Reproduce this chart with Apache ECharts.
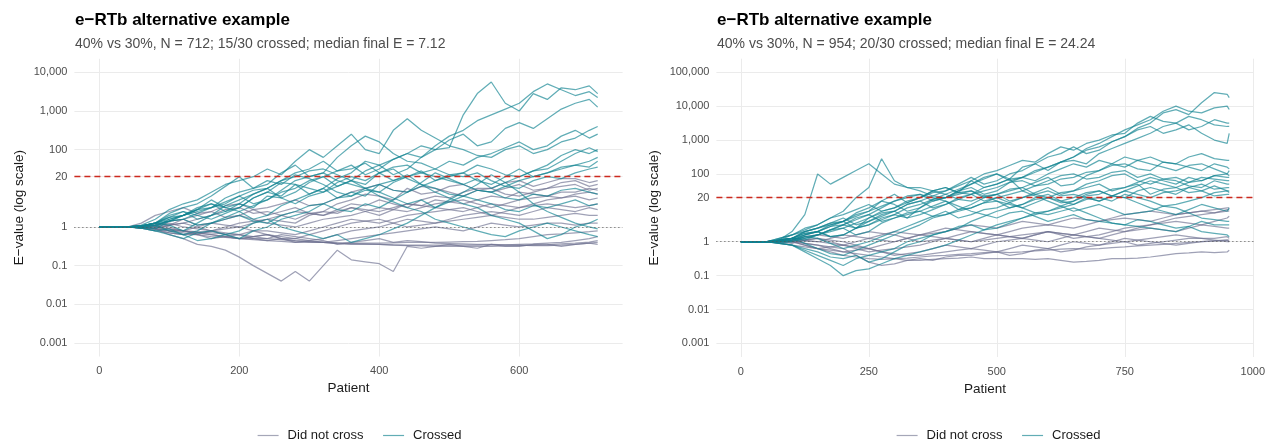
<!DOCTYPE html>
<html>
<head>
<meta charset="utf-8">
<script src="https://cdn.jsdelivr.net/npm/echarts@6/dist/echarts.min.js"></script>
<style>
html, body { margin: 0; padding: 0; background: #fff; }
#main { width: 1268px; height: 439px; }
</style>
</head>
<body>
<div id="main"></div>
<script>
var leftPatients = [0, 20, 40, 60, 80, 100, 120, 140, 160, 180, 200, 220, 240, 260, 280, 300, 320, 340, 360,
    380, 400, 420, 440, 460, 480, 500, 520, 540, 560, 580, 600, 620, 640, 660, 680, 700, 712];
var rightPatients = [0, 25, 50, 75, 100, 125, 150, 175, 200, 225, 250, 275, 300, 325, 350, 375, 400, 425, 450, 475,
    500, 525, 550, 575, 600, 625, 650, 675, 700, 725, 750, 775, 800, 825, 850, 875, 900, 925, 950, 954];

// log10(E) paths, left panel (N = 712)
var leftCrossed = [
    [0, 0, 0, 0.02, 0.1, 0.25, 0.3, 0.5, 0.6, 0.4, 0.5, 0.75, 0.9, 1.15, 1.1, 0.85, 1.0, 1.25, 1.4, 1.7, 1.6, 1.35, 1.5, 1.8, 2.0, 2.05, 2.9, 3.45, 3.75, 3.2, 3.0, 3.45, 3.3, 3.6, 3.55, 3.65, 3.45],
    [0, 0, 0, -0.02, 0.05, 0.15, 0.2, 0.35, 0.5, 0.65, 0.8, 0.6, 0.7, 0.9, 1.0, 1.2, 1.3, 1.05, 1.2, 1.45, 1.6, 1.75, 1.9, 1.8, 2.1, 2.35, 2.5, 2.75, 2.9, 3.05, 3.2, 3.5, 3.7, 3.55, 3.4, 3.5, 3.35],
    [0, 0, 0, 0.03, 0.1, 0.3, 0.4, 0.2, 0.3, 0.55, 0.7, 0.85, 1.0, 0.75, 0.9, 1.15, 1.3, 1.45, 1.6, 1.35, 1.5, 1.75, 1.9, 2.1, 2.0, 2.25, 2.4, 2.1, 2.2, 2.55, 2.7, 2.55, 2.8, 3.05, 3.2, 3.3, 3.1],
    [0, 0, 0, 0.05, 0.2, 0.45, 0.6, 0.7, 0.9, 1.1, 1.2, 1.3, 1.5, 1.35, 1.7, 2.0, 1.8, 2.1, 2.4, 2.0, 1.9, 2.5, 2.8, 2.5, 2.3, 2.1, 2.0, 1.85, 1.8, 2.0, 2.1, 1.9, 2.0, 2.2, 2.3, 2.5, 2.6],
    [0, 0, 0, 0.02, 0.1, 0.35, 0.5, 0.6, 0.8, 1.05, 1.3, 1.0, 1.1, 1.4, 1.6, 1.3, 1.4, 1.8, 2.1, 2.35, 2.2, 1.9, 1.7, 1.65, 1.5, 1.7, 1.6, 1.8, 1.9, 2.05, 2.2, 2.0, 2.1, 2.35, 2.5, 2.3, 2.4],
    [0, 0, 0, -0.02, 0, 0.2, 0.3, 0.45, 0.7, 0.5, 0.6, 0.85, 1.0, 1.2, 1.4, 1.5, 1.7, 1.45, 1.5, 1.65, 1.4, 1.2, 1.3, 1.45, 1.2, 1.3, 1.4, 1.6, 1.5, 1.35, 1.3, 1.45, 1.6, 1.85, 2.0, 1.9, 2.0],
    [0, 0, 0, 0.03, 0.1, 0.05, -0.1, 0.1, 0.3, 0.4, 0.6, 0.5, 0.8, 0.75, 0.6, 0.8, 0.9, 1.05, 1.2, 1.1, 1.4, 1.55, 1.6, 1.4, 1.3, 1.2, 1.1, 1.25, 1.0, 1.15, 1.3, 1.45, 1.5, 1.7, 1.9, 2.05, 1.95],
    [0, 0, 0, 0, 0.05, 0.15, 0.2, 0.05, 0.1, 0.25, 0.4, 0.2, 0.3, 0.55, 0.7, 0.85, 1.0, 0.75, 0.8, 1.0, 1.1, 0.95, 0.9, 1.05, 1.2, 1.35, 1.4, 1.2, 1.1, 1.3, 1.5, 1.3, 1.4, 1.55, 1.6, 1.7, 1.8],
    [0, 0, 0, 0, -0.05, 0.15, 0.3, 0.4, 0.5, 0.75, 0.9, 1.0, 1.2, 1.1, 1.35, 1.25, 1.1, 0.9, 0.8, 0.95, 0.9, 1.15, 1.3, 1.4, 1.5, 1.35, 1.3, 1.4, 1.2, 1.05, 1.0, 1.2, 1.3, 1.25, 1.4, 1.5, 1.55],
    [0, 0, 0, 0.02, 0.1, 0.25, 0.4, 0.3, 0.2, 0.35, 0.5, 0.75, 0.9, 0.8, 1.1, 1.0, 0.9, 1.15, 1.3, 1.2, 1.4, 1.5, 1.25, 1.1, 1.0, 0.85, 0.8, 0.95, 0.9, 1.05, 1.2, 1.3, 1.4, 1.5, 1.6, 1.55, 1.7],
    [0, 0, 0, -0.03, -0.1, -0.05, -0.2, -0.1, 0.1, 0.2, 0.3, 0.15, 0.1, 0.3, 0.4, 0.55, 0.6, 0.45, 0.4, 0.6, 0.5, 0.7, 0.9, 1.15, 1.4, 1.25, 1.1, 0.95, 0.9, 0.75, 0.7, 0.85, 0.8, 0.95, 1.0, 0.9, 0.85],
    [0, 0, 0, 0.02, 0.1, 0.2, 0.3, 0.45, 0.6, 0.5, 0.4, 0.55, 0.7, 0.95, 1.2, 1.3, 1.4, 1.2, 1.1, 1.0, 0.9, 0.75, 0.6, 0.7, 0.5, 0.65, 0.8, 0.7, 0.6, 0.45, 0.4, 0.55, 0.5, 0.6, 0.7, 0.55, 0.6],
    [0, 0, 0, -0.03, -0.1, -0.2, -0.3, -0.15, -0.1, -0.2, -0.3, -0.1, 0.0, 0.2, 0.3, 0.4, 0.6, 0.75, 0.9, 0.8, 1.1, 1.2, 1.35, 1.1, 0.9, 0.75, 0.6, 0.5, 0.3, 0.2, 0.1, -0.1, -0.3, -0.2, 0.0, 0.1, 0.2],
    [0, 0, 0, 0.02, 0.05, -0.1, -0.2, -0.35, -0.3, -0.2, -0.1, 0.1, 0.2, 0.0, -0.1, -0.2, -0.3, -0.2, -0.4, -0.3, -0.2, -0.05, 0.1, 0.3, 0.5, 0.7, 0.9, 1.1, 1.35, 1.15, 0.9, 0.6, 0.4, 0.25, 0.1, 0.0, -0.05],
    [0, 0, 0, 0.03, 0.1, 0.15, 0.3, 0.45, 0.5, 0.6, 0.8, 0.95, 1.0, 1.2, 1.3, 1.45, 1.5, 1.35, 1.2, 1.0, 0.8, 0.65, 0.5, 0.4, 0.2, 0.1, 0.0, -0.1, -0.2, -0.25, -0.1, 0.0, 0.1, 0.0, -0.1, -0.2, -0.25]
];
var leftNotCrossed = [
    [0, 0, 0, -0.02, -0.05, -0.2, -0.3, -0.45, -0.5, -0.6, -0.78, -1.0, -1.2, -1.4, -1.15, -1.4, -1.0, -0.6, -0.85, -0.9, -0.95, -1.15, -0.5, -0.55, -0.5, -0.45, -0.5, -0.55, -0.45, -0.5, -0.5, -0.45, -0.45, -0.5, -0.45, -0.42, -0.45],
    [0, 0, 0, 0.1, 0.3, 0.4, 0.5, 0.35, 0.4, 0.55, 0.6, 0.45, 0.3, 0.4, 0.5, 0.35, 0.4, 0.6, 0.7, 0.85, 0.8, 0.7, 1.0, 0.85, 0.9, 1.05, 1.1, 0.95, 1.0, 1.15, 1.2, 1.05, 1.15, 1.25, 1.25, 1.15, 1.2],
    [0, 0, 0, 0.03, 0.1, 0.05, 0.2, 0.3, 0.4, 0.25, 0.3, 0.45, 0.5, 0.6, 0.7, 0.55, 0.6, 0.75, 0.9, 1.0, 1.1, 0.95, 0.9, 1.05, 1.0, 0.9, 0.8, 0.95, 0.9, 1.0, 1.1, 0.95, 1.0, 1.15, 1.2, 1.05, 1.1],
    [0, 0, 0, -0.02, -0.05, 0.05, 0.1, 0.2, 0.3, 0.45, 0.5, 0.35, 0.4, 0.3, 0.2, 0.35, 0.3, 0.45, 0.6, 0.55, 0.7, 0.6, 0.5, 0.7, 0.8, 0.75, 0.9, 1.0, 1.0, 0.85, 0.8, 0.9, 1.0, 1.05, 1.1, 0.95, 1.0],
    [0, 0, 0, 0.02, 0, -0.1, -0.1, 0.0, 0.1, 0.05, 0.0, 0.1, 0.2, 0.15, 0.1, 0.3, 0.4, 0.35, 0.5, 0.4, 0.3, 0.45, 0.6, 0.55, 0.7, 0.65, 0.6, 0.7, 0.8, 0.75, 0.9, 0.85, 0.8, 0.9, 0.9, 1.0, 0.95],
    [0, 0, 0, 0, 0.05, 0.15, 0.2, 0.05, 0.1, 0.2, 0.3, 0.2, 0.1, 0.05, 0.0, 0.1, 0.2, 0.25, 0.3, 0.4, 0.5, 0.45, 0.4, 0.5, 0.6, 0.65, 0.7, 0.6, 0.5, 0.6, 0.7, 0.75, 0.8, 0.75, 0.85, 0.9, 0.85],
    [0, 0, 0, -0.03, -0.1, -0.15, -0.2, -0.2, -0.1, 0.0, 0.1, 0.15, 0.2, 0.3, 0.4, 0.35, 0.3, 0.4, 0.5, 0.45, 0.4, 0.5, 0.6, 0.55, 0.5, 0.45, 0.4, 0.5, 0.6, 0.55, 0.5, 0.6, 0.7, 0.75, 0.8, 0.7, 0.75],
    [0, 0, 0, 0.02, 0.05, 0.0, -0.1, -0.2, -0.3, -0.25, -0.2, -0.1, -0.1, -0.15, -0.2, -0.1, 0.0, 0.1, 0.2, 0.15, 0.1, 0.2, 0.3, 0.35, 0.4, 0.45, 0.5, 0.4, 0.3, 0.4, 0.5, 0.55, 0.6, 0.55, 0.5, 0.55, 0.6],
    [0, 0, 0, 0, 0, 0.05, 0.1, 0.0, -0.1, -0.2, -0.3, -0.25, -0.2, -0.3, -0.4, -0.35, -0.3, -0.2, -0.1, -0.05, 0.0, 0.1, 0.2, 0.15, 0.1, 0.2, 0.3, 0.35, 0.4, 0.35, 0.3, 0.4, 0.5, 0.45, 0.4, 0.5, 0.45],
    [0, 0, 0, -0.02, -0.05, -0.15, -0.2, -0.15, -0.1, -0.05, 0.0, -0.1, -0.2, -0.25, -0.3, -0.2, -0.1, 0.0, 0.1, 0.15, 0.2, 0.1, 0.0, 0.05, 0.1, 0.15, 0.2, 0.25, 0.3, 0.25, 0.2, 0.2, 0.25, 0.3, 0.35, 0.3, 0.3],
    [0, 0, 0, 0, 0, -0.05, -0.1, -0.15, -0.2, -0.25, -0.3, -0.3, -0.35, -0.3, -0.3, -0.35, -0.4, -0.35, -0.3, -0.25, -0.2, -0.15, -0.1, -0.05, 0.0, -0.05, -0.1, 0.0, 0.1, 0.05, 0.0, 0.05, 0.1, 0.1, 0.05, 0.1, 0.1],
    [0, 0, 0, -0.02, -0.05, -0.1, -0.15, -0.2, -0.25, -0.27, -0.3, -0.33, -0.35, -0.37, -0.4, -0.4, -0.4, -0.41, -0.42, -0.42, -0.42, -0.41, -0.4, -0.4, -0.4, -0.39, -0.38, -0.37, -0.35, -0.33, -0.3, -0.25, -0.2, -0.18, -0.15, -0.12, -0.1],
    [0, 0, 0, 0, -0.05, -0.1, -0.1, -0.15, -0.2, -0.25, -0.3, -0.25, -0.2, -0.3, -0.35, -0.38, -0.4, -0.43, -0.45, -0.45, -0.45, -0.46, -0.47, -0.47, -0.47, -0.47, -0.47, -0.47, -0.46, -0.46, -0.45, -0.44, -0.42, -0.4, -0.35, -0.3, -0.25],
    [0, 0, 0, 0, 0, -0.05, -0.1, -0.12, -0.15, -0.18, -0.2, -0.25, -0.3, -0.33, -0.36, -0.38, -0.4, -0.42, -0.43, -0.44, -0.45, -0.47, -0.48, -0.49, -0.5, -0.5, -0.5, -0.5, -0.5, -0.49, -0.48, -0.47, -0.46, -0.44, -0.42, -0.39, -0.35],
    [0, 0, 0, 0.02, 0.05, 0.1, 0.0, -0.05, -0.1, -0.15, -0.2, -0.3, -0.3, -0.2, -0.25, -0.3, -0.35, -0.45, -0.4, -0.35, -0.3, -0.4, -0.35, -0.38, -0.42, -0.43, -0.44, -0.45, -0.45, -0.46, -0.47, -0.48, -0.48, -0.47, -0.45, -0.42, -0.4]
];

// log10(E) paths, right panel (N = 954)
var rightCrossed = [
    [0, 0, 0, 0.05, 0.1, 0.25, 0.3, 0.15, 0.2, 0.4, 0.5, 0.65, 0.8, 0.7, 1.0, 1.2, 1.3, 1.5, 1.6, 1.4, 1.5, 1.75, 1.9, 2.1, 2.2, 2.35, 2.5, 2.7, 2.8, 2.95, 3.1, 3.35, 3.5, 3.8, 3.9, 3.75, 4.1, 4.4, 4.35, 4.25],
    [0, 0, 0, 0.1, 0.2, 0.3, 0.4, 0.55, 0.6, 0.75, 0.9, 1.2, 1.1, 0.9, 1.0, 1.25, 1.4, 1.55, 1.7, 1.9, 2.0, 1.85, 2.2, 2.3, 2.1, 2.35, 2.5, 2.75, 2.9, 3.1, 3.3, 3.45, 3.6, 3.85, 4.0, 3.85, 3.8, 3.95, 4.0, 3.9],
    [0, 0, 0, 0.02, 0.05, 0.2, 0.3, 0.45, 0.5, 0.4, 0.7, 0.9, 1.0, 1.15, 1.3, 1.5, 1.6, 1.45, 1.8, 2.0, 2.1, 2.25, 2.4, 2.35, 2.6, 2.8, 2.7, 2.9, 3.0, 3.15, 3.2, 3.5, 3.7, 3.55, 3.5, 3.7, 3.6, 3.45, 3.4, 3.4],
    [0, 0, 0, 0.05, 0.1, 0.3, 0.4, 0.55, 0.7, 0.5, 0.6, 0.8, 0.9, 1.1, 1.2, 1.35, 1.5, 1.7, 1.9, 1.7, 1.8, 2.0, 2.1, 2.3, 2.5, 2.6, 2.8, 2.6, 2.7, 2.95, 3.1, 3.3, 3.4, 3.2, 3.3, 3.45, 3.2, 3.0, 2.9, 3.2],
    [0, 0, 0, 0.03, 0.1, 0.1, 0.2, 0.35, 0.5, 0.7, 0.8, 1.0, 1.2, 1.3, 1.4, 1.2, 1.3, 1.5, 1.7, 1.85, 2.0, 1.8, 1.9, 2.05, 2.2, 2.35, 2.4, 2.3, 2.6, 2.75, 2.9, 3.05, 3.2, 3.4, 3.5, 3.3, 3.4, 3.6, 3.5, 3.5],
    [0, 0, 0, 0.05, 0.3, 0.8, 2.0, 1.7, 1.9, 2.1, 2.3, 2.0, 1.7, 1.6, 1.5, 1.35, 1.3, 1.45, 1.5, 1.3, 1.4, 1.55, 1.6, 1.75, 1.9, 1.65, 1.7, 1.95, 2.1, 2.25, 2.3, 2.15, 2.1, 2.35, 2.3, 2.2, 2.1, 2.3, 2.2, 2.15],
    [0, 0, 0, 0.1, 0.2, 0.4, 0.5, 0.7, 0.9, 1.3, 1.6, 2.45, 1.8, 1.6, 1.6, 1.5, 1.4, 1.25, 1.2, 1.35, 1.4, 1.2, 1.3, 1.45, 1.6, 1.4, 1.5, 1.7, 1.8, 1.95, 2.0, 1.8, 1.7, 1.85, 1.9, 1.75, 1.8, 1.95, 1.9, 1.9],
    [0, 0, 0, 0.05, 0.1, 0.2, 0.3, 0.5, 0.6, 0.85, 1.0, 1.2, 1.4, 1.15, 1.3, 1.45, 1.5, 1.65, 1.8, 1.6, 1.7, 1.85, 1.5, 1.65, 1.8, 1.95, 2.0, 1.85, 1.9, 2.05, 2.1, 1.9, 2.0, 1.85, 1.8, 1.65, 1.6, 1.8, 1.7, 1.7],
    [0, 0, 0, -0.03, 0.0, 0.1, 0.2, 0.3, 0.4, 0.2, 0.3, 0.55, 0.7, 0.8, 0.9, 1.05, 1.2, 0.95, 1.1, 1.3, 1.4, 1.5, 1.6, 1.4, 1.3, 1.45, 1.5, 1.6, 1.7, 1.5, 1.6, 1.7, 1.4, 1.55, 1.6, 1.45, 1.5, 1.65, 1.5, 1.5],
    [0, 0, 0, 0.05, 0.1, -0.05, -0.2, -0.35, -0.4, -0.25, -0.1, 0.05, 0.2, 0.35, 0.5, 0.7, 0.8, 0.9, 1.0, 1.15, 1.2, 1.0, 1.1, 1.3, 1.4, 1.2, 1.3, 1.45, 1.5, 1.35, 1.3, 1.5, 1.6, 1.5, 1.4, 1.6, 1.5, 1.35, 1.4, 1.4],
    [0, 0, 0, 0, 0.05, 0.2, 0.3, 0.45, 0.6, 0.4, 0.5, 0.7, 0.8, 1.0, 1.1, 1.25, 1.3, 1.4, 1.5, 1.35, 1.2, 1.1, 1.0, 1.15, 1.3, 1.2, 1.1, 1.3, 1.2, 1.35, 1.5, 1.4, 1.3, 1.45, 1.5, 1.6, 1.7, 1.55, 1.6, 1.6],
    [0, 0, 0, -0.05, -0.1, -0.2, -0.3, -0.45, -0.5, -0.4, -0.6, -0.5, -0.3, -0.1, 0.0, 0.2, 0.3, 0.4, 0.6, 0.75, 0.9, 1.0, 1.1, 1.25, 1.3, 1.15, 1.2, 1.35, 1.4, 1.55, 1.6, 1.75, 1.9, 1.8, 1.7, 1.9, 1.8, 1.95, 2.0, 1.95],
    [0, 0, 0, -0.05, -0.1, -0.3, -0.5, -0.7, -1.0, -0.85, -0.8, -0.65, -0.5, -0.4, -0.3, -0.2, -0.1, 0.05, 0.2, 0.35, 0.5, 0.6, 0.7, 0.85, 0.9, 1.0, 1.1, 1.25, 1.3, 1.2, 1.4, 1.3, 1.2, 1.05, 1.1, 1.2, 1.3, 1.45, 1.5, 1.45],
    [0, 0, 0, 0.05, 0.1, 0.25, 0.3, 0.15, 0.2, 0.4, 0.6, 0.75, 0.9, 0.7, 0.8, 0.95, 1.1, 1.25, 1.4, 1.2, 1.3, 1.15, 1.0, 0.85, 0.8, 0.9, 1.0, 0.85, 0.7, 0.55, 0.5, 0.65, 0.6, 0.5, 0.4, 0.45, 0.3, 0.25, 0.2, 0.15],
    [0, 0, 0, 0.02, 0.0, 0.15, 0.2, 0.35, 0.5, 0.65, 0.8, 0.6, 0.7, 0.85, 0.9, 0.75, 0.8, 0.95, 1.0, 1.15, 1.3, 1.4, 1.5, 1.35, 1.2, 1.05, 0.9, 1.0, 1.1, 0.95, 0.8, 0.85, 0.9, 1.05, 1.0, 0.85, 0.7, 0.65, 0.6, 0.6],
    [0, 0, 0, 0.05, 0.1, 0.3, 0.4, 0.5, 0.6, 0.8, 0.9, 1.05, 1.2, 1.35, 1.4, 1.3, 1.2, 1.05, 0.9, 0.8, 0.7, 0.85, 0.9, 0.75, 0.6, 0.7, 0.8, 0.65, 0.6, 0.55, 0.5, 0.45, 0.4, 0.35, 0.3, 0.45, 0.6, 0.5, 0.5, 0.5],
    [0, 0, 0, -0.05, -0.1, -0.25, -0.4, -0.55, -0.7, -0.5, -0.4, -0.3, -0.2, 0.0, 0.1, 0.2, 0.3, 0.45, 0.5, 0.35, 0.4, 0.55, 0.7, 0.8, 0.9, 1.05, 1.2, 1.4, 1.5, 1.35, 1.3, 1.15, 1.0, 0.9, 0.8, 0.95, 1.1, 1.0, 0.9, 1.0],
    [0, 0, 0, 0.05, 0.2, 0.35, 0.5, 0.7, 0.8, 0.95, 1.1, 0.9, 1.0, 1.2, 1.3, 1.5, 1.6, 1.45, 1.4, 1.6, 1.7, 1.85, 1.9, 1.8, 2.0, 2.15, 2.3, 2.2, 2.4, 2.3, 2.2, 2.4, 2.5, 2.35, 2.3, 2.5, 2.6, 2.45, 2.4, 2.4],
    [0, 0, 0, 0.02, 0.1, 0.05, 0.2, 0.35, 0.4, 0.55, 0.7, 0.85, 0.9, 1.1, 1.2, 1.0, 1.1, 1.3, 1.4, 1.5, 1.6, 1.75, 1.8, 1.65, 1.7, 1.85, 1.9, 2.05, 2.1, 2.3, 2.5, 2.4, 2.3, 2.2, 2.1, 2.25, 2.3, 2.15, 2.0, 2.1],
    [0, 0, 0, 0, 0.05, 0.15, 0.1, -0.05, -0.2, -0.1, 0.0, 0.15, 0.3, 0.45, 0.6, 0.75, 0.9, 0.7, 0.8, 0.95, 1.0, 1.15, 1.3, 1.4, 1.5, 1.35, 1.4, 1.3, 1.2, 1.35, 1.5, 1.65, 1.8, 1.7, 1.6, 1.75, 1.9, 1.85, 1.8, 1.8]
];
var rightNotCrossed = [
    [0, 0, 0, 0, 0.0, -0.1, -0.2, -0.3, -0.4, -0.45, -0.5, -0.52, -0.5, -0.55, -0.55, -0.52, -0.5, -0.48, -0.45, -0.5, -0.5, -0.5, -0.5, -0.52, -0.5, -0.55, -0.6, -0.58, -0.55, -0.5, -0.5, -0.48, -0.45, -0.4, -0.35, -0.33, -0.3, -0.32, -0.3, -0.25],
    [0, 0, 0, 0, 0.0, -0.05, -0.1, -0.2, -0.3, -0.35, -0.4, -0.45, -0.5, -0.48, -0.45, -0.42, -0.4, -0.37, -0.35, -0.32, -0.3, -0.32, -0.3, -0.27, -0.25, -0.22, -0.2, -0.22, -0.2, -0.17, -0.15, -0.12, -0.1, -0.08, -0.05, -0.02, 0.0, 0.03, 0.05, 0.05],
    [0, 0, 0, 0.02, 0.05, -0.05, -0.1, -0.15, -0.2, -0.4, -0.6, -0.7, -0.65, -0.55, -0.5, -0.55, -0.45, -0.4, -0.4, -0.35, -0.3, -0.4, -0.35, -0.25, -0.2, -0.3, -0.25, -0.15, -0.1, -0.05, 0.0, -0.1, -0.05, 0.0, 0.05, 0.1, 0.1, 0.05, 0.0, 0.0],
    [0, 0, 0, 0.05, 0.1, 0.05, 0.0, 0.1, 0.2, 0.15, 0.1, 0.2, 0.3, 0.25, 0.2, 0.3, 0.4, 0.35, 0.3, 0.25, 0.2, 0.3, 0.4, 0.45, 0.5, 0.45, 0.4, 0.5, 0.6, 0.65, 0.7, 0.65, 0.6, 0.7, 0.8, 0.85, 0.9, 0.85, 0.95, 0.95],
    [0, 0, 0, 0, -0.05, 0.05, 0.1, 0.05, 0.0, -0.1, -0.2, -0.1, 0.0, 0.1, 0.2, 0.25, 0.3, 0.4, 0.5, 0.45, 0.4, 0.5, 0.6, 0.55, 0.5, 0.6, 0.7, 0.65, 0.6, 0.7, 0.8, 0.85, 0.9, 0.85, 0.8, 0.85, 0.9, 0.95, 1.0, 1.0],
    [0, 0, 0, 0.02, 0.05, 0.15, 0.2, 0.15, 0.1, 0.2, 0.3, 0.25, 0.2, 0.1, 0.0, 0.05, 0.1, 0.2, 0.3, 0.25, 0.2, 0.15, 0.1, 0.2, 0.3, 0.25, 0.2, 0.3, 0.4, 0.35, 0.3, 0.4, 0.5, 0.55, 0.6, 0.55, 0.5, 0.6, 0.7, 0.75],
    [0, 0, 0, -0.02, 0.0, -0.1, -0.2, -0.15, -0.1, -0.2, -0.3, -0.25, -0.2, -0.15, -0.1, 0.0, 0.1, 0.05, 0.0, 0.1, 0.2, 0.15, 0.1, 0.2, 0.3, 0.25, 0.2, 0.15, 0.1, 0.2, 0.3, 0.35, 0.4, 0.35, 0.3, 0.4, 0.5, 0.45, 0.4, 0.4],
    [0, 0, 0, -0.03, -0.1, -0.15, -0.2, -0.25, -0.3, -0.25, -0.2, -0.3, -0.4, -0.35, -0.3, -0.2, -0.1, -0.15, -0.2, -0.1, 0.0, 0.05, 0.1, 0.05, 0.0, 0.1, 0.2, 0.15, 0.1, 0.05, 0.0, 0.05, 0.1, 0.15, 0.2, 0.15, 0.1, 0.1, 0.15, 0.1],
    [0, 0, 0, 0, 0.05, 0.02, 0.0, -0.05, -0.1, 0.0, 0.1, 0.05, 0.0, 0.1, 0.2, 0.15, 0.1, 0.05, 0.0, 0.05, 0.1, 0.15, 0.2, 0.25, 0.3, 0.2, 0.1, 0.15, 0.2, 0.3, 0.4, 0.45, 0.5, 0.6, 0.7, 0.75, 0.8, 0.85, 0.9, 0.9],
    [0, 0, 0, 0.02, 0.0, 0.05, 0.1, 0.0, -0.1, -0.15, -0.2, -0.3, -0.35, -0.4, -0.4, -0.35, -0.3, -0.25, -0.2, -0.25, -0.3, -0.2, -0.1, -0.15, -0.2, -0.1, 0.0, -0.05, -0.1, 0.0, 0.1, 0.05, 0.0, -0.05, -0.1, -0.05, 0.0, 0.02, 0.05, 0.0]
];

var leftXTicks = [0, 200, 400, 600];
var rightXTicks = [0, 250, 500, 750, 1000];
var leftYTicks = [0.001, 0.01, 0.1, 1, 20, 100, 1000, 10000];
var leftYLabels = ['0.001', '0.01', '0.1', '1', '20', '100', '1,000', '10,000'];
var rightYTicks = [0.001, 0.01, 0.1, 1, 20, 100, 1000, 10000, 100000];
var rightYLabels = ['0.001', '0.01', '0.1', '1', '20', '100', '1,000', '10,000', '100,000'];
var threshold = 20;

var titles = ['e\u2212RTb alternative example', 'e\u2212RTb alternative example'];
var subtitles = [
    '40% vs 30%, N = 712; 15/30 crossed; median final E = 7.12',
    '40% vs 30%, N = 954; 20/30 crossed; median final E = 24.24'
];

var FONT = 'Liberation Sans';
var TEAL = '#0f8390';
var GREY = '#6e7190';

var dom = document.getElementById('main');
var myChart = echarts.init(dom);

function buildLines(paths, xs, name, color, idx) {
    return paths.map(function (p) {
        return {
            type: 'line',
            name: name,
            xAxisIndex: idx,
            yAxisIndex: idx,
            data: p.map(function (v, i) { return [xs[i], v]; }),
            symbol: 'none',
            silent: true,
            lineStyle: { color: color, width: 1.25, opacity: 0.66 },
            itemStyle: { color: color },
            z: 2
        };
    });
}

function refLines(idx) {
    return [{
        type: 'line', xAxisIndex: idx, yAxisIndex: idx, data: [], silent: true, z: 1,
        markLine: {
            silent: true, symbol: 'none', label: { show: false },
            lineStyle: { color: '#555', type: [1, 3], width: 1 },
            data: [{ yAxis: 0 }]
        }
    }, {
        type: 'line', xAxisIndex: idx, yAxisIndex: idx, data: [], silent: true, z: 5,
        markLine: {
            silent: true, symbol: 'none', label: { show: false },
            lineStyle: { color: '#cc2a1f', type: [6, 4], width: 1.3 },
            data: [{ yAxis: Math.log10(threshold) }]
        }
    }];
}

function xAxis(idx, min, max, ticks) {
    return {
        type: 'value', gridIndex: idx, min: min, max: max,
        name: 'Patient', nameLocation: 'middle', nameGap: 23,
        nameTextStyle: { fontFamily: FONT, fontSize: 13.5, color: '#1a1a1a' },
        axisLine: { show: false },
        axisTick: { show: false, customValues: ticks },
        axisLabel: {
            customValues: ticks, margin: 9, fontFamily: FONT, fontSize: 11, color: '#4d4d4d',
            formatter: function (v) { return String(v); }
        },
        splitLine: { show: true, lineStyle: { color: '#ebebeb', width: 1 } }
    };
}

function yAxis(idx, min, max, ticks, labels, gap) {
    var vals = ticks.map(function (t) { return Math.log10(t); });
    return {
        type: 'value', gridIndex: idx, min: min, max: max,
        name: 'E\u2212value (log scale)', nameLocation: 'middle', nameGap: gap,
        nameTextStyle: { fontFamily: FONT, fontSize: 13.5, color: '#1a1a1a' },
        axisLine: { show: false },
        axisTick: { show: false, customValues: vals },
        axisLabel: {
            customValues: vals, margin: 7, fontFamily: FONT, fontSize: 11, color: '#4d4d4d',
            formatter: function (v) {
                for (var i = 0; i < vals.length; i++) {
                    if (Math.abs(vals[i] - v) < 1e-6) return labels[i];
                }
                return '';
            }
        },
        splitLine: { show: true, lineStyle: { color: '#ebebeb', width: 1 } }
    };
}

var series = []
    .concat(refLines(0))
    .concat(buildLines(leftNotCrossed, leftPatients, 'Did not cross', GREY, 0))
    .concat(buildLines(leftCrossed, leftPatients, 'Crossed', TEAL, 0))
    .concat(refLines(1))
    .concat(buildLines(rightNotCrossed, rightPatients, 'Did not cross', GREY, 1))
    .concat(buildLines(rightCrossed, rightPatients, 'Crossed', TEAL, 1));

function legendAt(left) {
    return {
        left: left, top: 424, orient: 'horizontal',
        data: [
            {
                name: 'Did not cross',
                itemStyle: { color: '#a5a7b8', opacity: 0 },
                lineStyle: { color: '#a5a7b8', width: 1.2, opacity: 1 }
            },
            {
                name: 'Crossed',
                itemStyle: { color: '#62adb5', opacity: 0 },
                lineStyle: { color: '#62adb5', width: 1.2, opacity: 1 }
            }
        ],
        itemWidth: 21, itemHeight: 10, itemGap: 19,
        textStyle: { fontFamily: FONT, fontSize: 13, color: '#1a1a1a', padding: [0, 0, 0, 4] }
    };
}

var option = {
    backgroundColor: '#ffffff',
    animation: false,
    title: [0, 1].map(function (i) {
        return {
            left: i === 0 ? 75 : 717, top: 12, padding: 0,
            text: titles[i], subtext: subtitles[i], itemGap: 8,
            textStyle: { fontFamily: FONT, fontSize: 17, fontWeight: 'bold', color: '#000' },
            subtextStyle: { fontFamily: FONT, fontSize: 14, color: '#4d4d4d' }
        };
    }),
    legend: [legendAt(252), legendAt(891)],
    grid: [
        { left: 74.4, top: 58.8, width: 548.2, height: 297.7 },
        { left: 716.4, top: 58.7, width: 540.6, height: 298.3 }
    ],
    xAxis: [xAxis(0, -35.6, 747.6, leftXTicks), xAxis(1, -47.7, 1001.7, rightXTicks)],
    yAxis: [yAxis(0, -3.35, 4.35, leftYTicks, leftYLabels, 48), yAxis(1, -3.4, 5.4, rightYTicks, rightYLabels, 55)],
    series: series
};

myChart.setOption(option, true);
</script>
</body>
</html>
